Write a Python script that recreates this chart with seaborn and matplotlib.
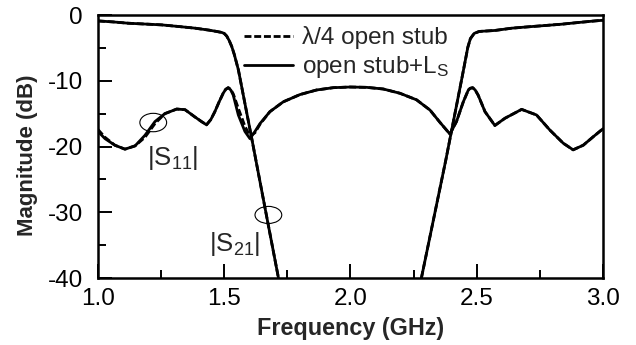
import numpy as np
import pandas as pd
import matplotlib
matplotlib.use("Agg")
import matplotlib.pyplot as plt
from matplotlib.lines import Line2D
from matplotlib.patches import Ellipse
from matplotlib.ticker import MultipleLocator, FormatStrFormatter
import seaborn as sns

# ---- measured responses -------------------------------------------------
# |S11| (dB)
s11_freq = [1.000, 1.028, 1.067, 1.107, 1.147, 1.186, 1.226, 1.265, 1.312, 1.345,
            1.384, 1.410, 1.430, 1.447, 1.463, 1.480, 1.496, 1.506, 1.516, 1.526,
            1.536, 1.556, 1.582, 1.602, 1.622, 1.642, 1.681, 1.734, 1.800, 1.866,
            1.932, 1.998, 2.064, 2.130, 2.196, 2.262, 2.315, 2.354, 2.394, 2.420,
            2.447, 2.467, 2.474, 2.484, 2.494, 2.506, 2.533, 2.572, 2.612, 2.678,
            2.737, 2.790, 2.843, 2.882, 2.922, 2.962, 3.000]
s11_stub_ls = [-17.7, -18.8, -19.8, -20.4, -19.9, -18.3, -16.2, -15.0, -14.3, -14.4,
               -15.5, -16.2, -16.7, -15.9, -14.7, -13.2, -11.9, -11.3, -11.05, -11.4,
               -12.2, -15.2, -17.7, -18.8, -17.7, -16.5, -14.7, -13.2, -12.1, -11.4,
               -11.05, -10.95, -11.0, -11.25, -11.9, -12.9, -14.45, -16.3, -18.1, -16.2,
               -13.2, -11.4, -11.15, -11.05, -11.4, -12.2, -14.7, -16.8, -15.7, -14.35,
               -15.2, -17.5, -19.5, -20.5, -19.8, -18.5, -17.3]
s11_quarter = [-17.4, -18.6, -19.8, -20.4, -19.9, -18.6, -16.5, -15.0, -14.3, -14.4,
               -15.5, -16.2, -16.7, -15.9, -14.7, -13.2, -11.9, -11.3, -11.05, -11.3,
               -12.0, -14.2, -16.9, -18.4, -17.9, -16.6, -14.7, -13.2, -12.1, -11.4,
               -11.05, -10.95, -11.0, -11.25, -11.9, -12.9, -14.45, -16.3, -18.1, -16.2,
               -13.2, -11.4, -11.15, -11.05, -11.4, -12.2, -14.7, -16.8, -15.7, -14.35,
               -15.2, -17.5, -19.5, -20.5, -19.8, -18.5, -17.3]

# |S21| (dB), lower and upper passbands
s21_lo_freq = [1.000, 1.060, 1.120, 1.200, 1.252, 1.320, 1.384, 1.440, 1.470, 1.490,
               1.500, 1.510, 1.520, 1.530, 1.540, 1.556, 1.609, 1.668, 1.715]
s21_lo = [-0.9, -1.05, -1.25, -1.4, -1.5, -1.75, -2.0, -2.3, -2.5, -2.65,
          -2.8, -3.2, -3.9, -4.8, -6.0, -8.3, -18.75, -30.6, -40.0]
s21_hi_freq = [2.281, 2.378, 2.444, 2.455, 2.465, 2.475, 2.490, 2.510, 2.572, 2.640,
               2.703, 2.770, 2.836, 2.900, 2.968, 3.000]
s21_hi = [-40.0, -22.0, -9.1, -6.9, -4.9, -3.6, -2.8, -2.5, -2.35, -2.0,
          -1.8, -1.6, -1.4, -1.15, -0.9, -0.8]

designs = ["λ/4 open stub", "open stub+L$_\\mathregular{S}$"]

x_ticks = [1.0, 1.5, 2.0, 2.5, 3.0]
y_ticks = [0, -10, -20, -30, -40]

# ---- long-form table ----------------------------------------------------
frames = []
for design, s11 in zip(designs, [s11_quarter, s11_stub_ls]):
    frames.append(pd.DataFrame({"freq": s11_freq, "mag": s11,
                                "design": design, "trace": design + " S11"}))
    frames.append(pd.DataFrame({"freq": s21_lo_freq, "mag": s21_lo,
                                "design": design, "trace": design + " S21a"}))
    frames.append(pd.DataFrame({"freq": s21_hi_freq, "mag": s21_hi,
                                "design": design, "trace": design + " S21b"}))
df = pd.concat(frames, ignore_index=True)

# ---- styling ------------------------------------------------------------
sns.set_theme(style="ticks")
plt.rcParams["font.family"] = ["Liberation Sans", "DejaVu Sans"]
plt.rcParams["mathtext.fontset"] = "custom"
plt.rcParams["mathtext.rm"] = "Liberation Sans"
plt.rcParams["mathtext.it"] = "Liberation Sans:italic"
plt.rcParams["mathtext.bf"] = "Liberation Sans:bold"
plt.rcParams["axes.unicode_minus"] = False

fig = plt.figure(figsize=(6.36, 3.45), dpi=100)
ax = fig.add_axes([0.154, 0.194, 0.794, 0.7625])

dash_map = {designs[0]: (2.5, 1.0), designs[1]: ""}
lw = 2.0
# solid first, dashed drawn on top
for design in [designs[1], designs[0]]:
    sub = df[df["design"] == design]
    sns.lineplot(data=sub, x="freq", y="mag", units="trace", estimator=None,
                 sort=False, color="black", lw=lw, dashes=dash_map[design],
                 legend=False, ax=ax)

ax.set_xlim(1.0, 3.0)
ax.set_ylim(-40, 0)
ax.xaxis.set_major_locator(plt.FixedLocator(x_ticks))
ax.xaxis.set_minor_locator(MultipleLocator(0.25))
ax.xaxis.set_major_formatter(FormatStrFormatter("%.1f"))
ax.yaxis.set_major_locator(plt.FixedLocator(y_ticks))
ax.yaxis.set_minor_locator(MultipleLocator(5))
ax.yaxis.set_major_formatter(FormatStrFormatter("%d"))

ax.tick_params(axis="both", which="both", direction="in", color="black",
               width=1.4, top=False, right=False, labelcolor="black")
ax.tick_params(axis="both", which="major", length=10, labelsize=17.5)
ax.tick_params(axis="both", which="minor", length=5.5)
ax.tick_params(axis="x", which="major", pad=7)
ax.tick_params(axis="y", which="major", pad=11)

for sp in ax.spines.values():
    sp.set_visible(True)
    sp.set_color("black")
    sp.set_linewidth(1.8)

ax.set_xlabel("Frequency (GHz)", fontsize=16.8, fontweight="bold")
ax.set_ylabel("Magnitude (dB)", fontsize=16, fontweight="bold")
ax.xaxis.set_label_coords(0.5, -0.148)
ax.yaxis.set_label_coords(-0.119, 0.465)

# curve markers
ax.add_patch(Ellipse((1.219, -16.35), 0.106, 2.8, fill=False, lw=0.8, ec="black"))
ax.add_patch(Ellipse((1.675, -30.4), 0.106, 2.6, fill=False, lw=0.8, ec="black"))
ax.text(1.295, -21.8, "|S$_\\mathregular{11}$|", fontsize=18.5, ha="center", va="center")
ax.text(1.543, -34.8, "|S$_\\mathregular{21}$|", fontsize=18.5, ha="center", va="center")

handles = [Line2D([], [], color="black", lw=lw, dashes=dash_map[designs[0]]),
           Line2D([], [], color="black", lw=lw)]
ax.legend(handles, designs, loc="upper left", bbox_to_anchor=(0.28, 0.975),
          frameon=False, fontsize=17.5, handlelength=2.0, handletextpad=0.37,
          labelspacing=0.2, borderpad=0.2, borderaxespad=0.0)

fig.savefig("out.png", dpi=100)
